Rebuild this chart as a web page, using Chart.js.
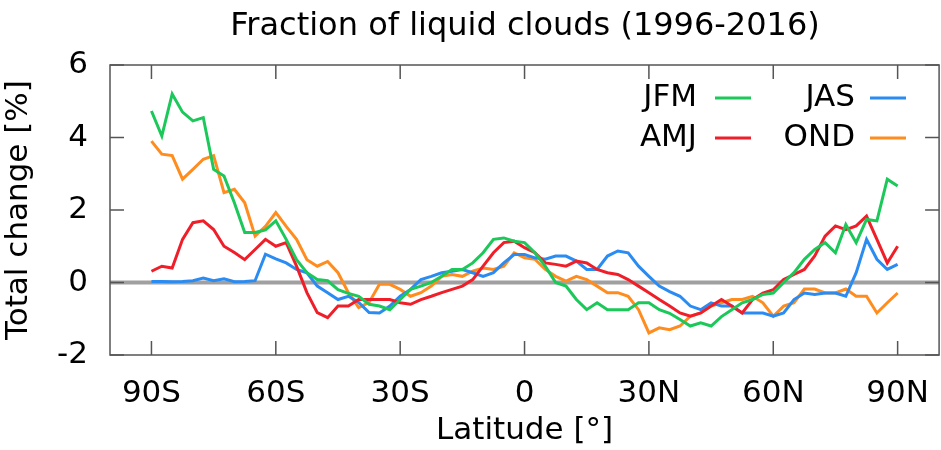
<!DOCTYPE html>
<html>
<head>
<meta charset="utf-8">
<script src="https://cdn.jsdelivr.net/npm/chart.js@4"></script>
<style>
  html, body { margin: 0; padding: 0; background: #fff; }
  #wrap { width: 941px; height: 450px; }
</style>
</head>
<body>
<div id="wrap"><canvas id="grafica" width="941" height="450"></canvas></div>
<script>
// ── Datos ────────────────────────────────────────────
const latitudes = [];
for (let i = 0; i <= 72; i++) latitudes.push(-90 + i * 2.5);

const jfm = [4.73,4.04,5.2,4.7,4.46,4.55,3.12,2.94,2.2,1.38,1.38,1.45,1.7,1.19,0.63,0.27,0.08,0.05,-0.2,-0.3,-0.38,-0.6,
  -0.65,-0.75,-0.47,-0.19,-0.1,0,0.17,0.36,0.36,0.54,0.82,1.19,1.23,1.14,1.1,0.82,0.45,0,-0.1,-0.47,-0.75,-0.56,-0.75,-0.75,-0.75,-0.56,-0.56,-0.75,
  -0.85,-1.02,-1.2,-1.11,-1.2,-0.94,-0.75,-0.56,-0.47,-0.33,-0.29,0,0.27,0.64,0.91,1.1,0.82,1.6,1.1,1.74,1.7,2.85,2.66];
const amj = [0.31,0.45,0.4,1.19,1.65,1.7,1.46,1.0,0.83,0.63,0.91,1.19,1.0,1.1,0.45,-0.28,-0.83,-0.97,-0.65,-0.65,-0.47,-0.47,
  -0.47,-0.47,-0.56,-0.6,-0.47,-0.38,-0.28,-0.19,-0.1,0.08,0.45,0.82,1.1,1.14,0.96,0.82,0.54,0.5,0.45,0.59,0.54,0.36,0.27,0.22,0.08,-0.1,-0.28,-0.47,
  -0.65,-0.84,-0.93,-0.84,-0.65,-0.47,-0.65,-0.84,-0.47,-0.29,-0.2,0.08,0.22,0.36,0.73,1.28,1.56,1.46,1.56,1.83,1.19,0.54,1.0];
const jas = [0.03,0.03,0.02,0.03,0.05,0.12,0.05,0.1,0.02,0.03,0.05,0.78,0.65,0.54,0.36,0.27,-0.1,-0.28,-0.47,-0.38,-0.55,-0.83,
  -0.84,-0.65,-0.38,-0.19,0.08,0.17,0.27,0.31,0.36,0.27,0.17,0.27,0.54,0.77,0.77,0.68,0.64,0.73,0.73,0.59,0.36,0.36,0.73,0.87,0.82,0.45,0.17,-0.1,
  -0.25,-0.38,-0.65,-0.75,-0.56,-0.65,-0.65,-0.84,-0.84,-0.84,-0.93,-0.84,-0.47,-0.29,-0.33,-0.29,-0.29,-0.38,0.27,1.19,0.64,0.36,0.5];
const ond = [3.9,3.54,3.5,2.85,3.12,3.4,3.5,2.48,2.57,2.2,1.28,1.55,1.93,1.55,1.19,0.63,0.45,0.58,0.27,-0.28,-0.69,-0.55,
  -0.05,-0.05,-0.19,-0.38,-0.28,-0.1,0.17,0.22,0.17,0.31,0.4,0.36,0.45,0.82,0.68,0.64,0.36,0.17,0.04,0.17,0.08,-0.1,-0.28,-0.28,-0.38,-0.75,-1.39,-1.25,
  -1.3,-1.2,-0.93,-0.84,-0.65,-0.56,-0.47,-0.47,-0.38,-0.56,-0.93,-0.65,-0.56,-0.18,-0.18,-0.29,-0.29,-0.18,-0.38,-0.38,-0.84,-0.56,-0.29];

const xTicks = [-90, -60, -30, 0, 30, 60, 90];
const xTickLabels = ['90S', '60S', '30S', '0', '30N', '60N', '90N'];
const yTicks = [-2, 0, 2, 4, 6];

const FONT = '"DejaVu Sans", Verdana, sans-serif';
const SIZE = 31;
const colores = { JFM: '#1cc85a', AMJ: '#f01e28', JAS: '#2a8cf2', OND: '#ff8c1e' };

function serie(nombre, valores) {
  return {
    label: nombre,
    data: latitudes.map((lat, i) => ({ x: lat, y: valores[i] })),
    borderColor: colores[nombre],
    borderWidth: 3,
    pointRadius: 0,
    tension: 0,
    fill: false
  };
}

// ── Marco, ticks, línea cero, leyenda, títulos ───────
const decoracion = {
  id: 'decoracion',
  beforeDatasetsDraw(chart) {
    const { ctx, chartArea: a, scales: { y } } = chart;
    ctx.save();
    ctx.strokeStyle = '#a0a0a0';
    ctx.lineWidth = 4;
    const y0 = y.getPixelForValue(0);
    ctx.beginPath(); ctx.moveTo(a.left, y0); ctx.lineTo(a.right, y0); ctx.stroke();
    ctx.restore();
  },
  afterDraw(chart) {
    const { ctx, chartArea: a, scales: { x, y } } = chart;
    ctx.save();
    ctx.strokeStyle = '#555';
    ctx.lineWidth = 1.5;
    ctx.strokeRect(a.left, a.top, a.right - a.left, a.bottom - a.top);
    ctx.beginPath();
    yTicks.forEach(v => {
      const p = y.getPixelForValue(v);
      ctx.moveTo(a.left, p); ctx.lineTo(a.left + 14, p);
      ctx.moveTo(a.right, p); ctx.lineTo(a.right - 14, p);
    });
    xTicks.forEach(v => {
      const p = x.getPixelForValue(v);
      ctx.moveTo(p, a.bottom); ctx.lineTo(p, a.bottom - 14);
      ctx.moveTo(p, a.top); ctx.lineTo(p, a.top + 14);
    });
    ctx.stroke();

    // título
    ctx.fillStyle = '#000';
    ctx.font = '32px ' + FONT;
    ctx.textAlign = 'center';
    ctx.textBaseline = 'middle';
    ctx.fillText('Fraction of liquid clouds (1996-2016)', 525, 27);

    // leyenda
    ctx.font = SIZE + 'px ' + FONT;
    const items = [
      ['JFM', 697, 98, 715], ['AMJ', 697, 138, 715],
      ['JAS', 855, 98, 870], ['OND', 855, 138, 870]
    ];
    ctx.textAlign = 'right';
    items.forEach(([t, tx, ty, lx]) => {
      ctx.fillStyle = '#000';
      ctx.fillText(t, tx, ty);
      ctx.strokeStyle = colores[t];
      ctx.lineWidth = 3;
      ctx.beginPath(); ctx.moveTo(lx, ty); ctx.lineTo(lx + 36, ty); ctx.stroke();
    });
    ctx.restore();
  }
};

new Chart(document.getElementById('grafica'), {
  type: 'line',
  data: { datasets: [serie('JFM', jfm), serie('AMJ', amj), serie('JAS', jas), serie('OND', ond)] },
  options: {
    responsive: false,
    animation: false,
    layout: { padding: { top: 65, right: 1, left: 0, bottom: 0 } },
    plugins: { legend: { display: false }, tooltip: { enabled: false } },
    scales: {
      x: {
        type: 'linear', min: -100, max: 100,
        afterBuildTicks(s) { s.ticks = xTicks.map(v => ({ value: v })); },
        afterFit(s) { s.height = 95; },
        grid: { display: false },
        border: { display: false },
        ticks: {
          color: '#000', font: { family: FONT, size: SIZE }, padding: 12, maxRotation: 0, autoSkip: false,
          callback: v => xTickLabels[xTicks.indexOf(v)] ?? ''
        },
        title: { display: true, text: 'Latitude [°]', color: '#000', font: { family: FONT, size: SIZE }, padding: { top: 0, bottom: 0 } }
      },
      y: {
        min: -2, max: 6,
        afterBuildTicks(s) { s.ticks = yTicks.map(v => ({ value: v })); },
        afterFit(s) { s.width = 110; },
        grid: { display: false },
        border: { display: false },
        ticks: { color: '#000', font: { family: FONT, size: SIZE }, padding: 14 },
        title: { display: true, text: 'Total change [%]', color: '#000', font: { family: FONT, size: SIZE }, padding: { top: 0, bottom: 4 } }
      }
    }
  },
  plugins: [decoracion]
});
</script>
</body>
</html>
